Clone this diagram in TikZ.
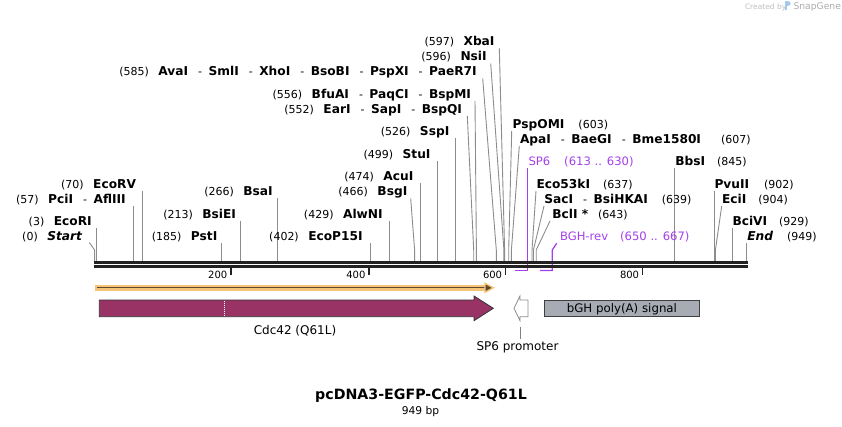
\documentclass[tikz,border=0pt]{standalone}
\usepackage{fontspec}
\setmainfont{DejaVu Sans}
\usetikzlibrary{calc}
\definecolor{cutgray}{RGB}{140,140,140}
\definecolor{prim}{RGB}{163,64,235}
\definecolor{cdc}{RGB}{153,51,102}
\definecolor{orband}{RGB}{246,196,118}
\definecolor{ordark}{RGB}{92,72,52}
\definecolor{bghfill}{RGB}{167,172,180}
\definecolor{bbcol}{RGB}{34,34,34}
\definecolor{wm}{RGB}{190,190,190}
\definecolor{wmblue}{RGB}{165,200,235}
\newcommand\nmf{\fontsize{12.2}{14}\selectfont\bfseries}
\newcommand\psf{\fontsize{11}{13}\selectfont\mdseries}
\newcommand\sepd{\hspace{10pt}{\psf -}\hspace{6.5pt}}
\newcommand\gapn{\hspace{9.5pt}}
\newcommand\cutl[4]{\coordinate (#1-t) at (#2,#3);\coordinate (#1-k) at (#4,250);\coordinate (#1-s) at (#4,261);\draw[cutline] (#1-t) -- (#1-k) -- (#1-s);}
\tikzset{
  lbl/.style={inner sep=0pt, outer sep=0pt},
  cutline/.style={draw=cutgray, line width=0.9pt},
  primer/.style={draw=prim, line width=1.3pt},
  ticklne/.style={draw=bbcol, line width=1.5pt},
}
\begin{document}
\begin{tikzpicture}[x=1pt,y=-1pt]
\useasboundingbox (0,0) rectangle (842,427);
% watermark
\node[lbl,anchor=base west,text=wm] (wm1) at (745,10) {\fontsize{7.5}{9}\selectfont Created by};
\fill[wmblue] (784.5,1.5) rectangle (787,10.5);
\fill[wmblue] (787,1.5) .. controls (792,1.5) and (792,6.5) .. (787,6.5) -- cycle;
\node[lbl,anchor=base west,text=wm!90!black] (wm2) at (793.5,10) {\fontsize{9.2}{11}\selectfont SnapGene};
% cut lines
\cutl{Start}{89.3}{242.5}{94.6}
\cutl{EcoRI}{96.7}{228.5}{96.7}
\cutl{PciI}{133.7}{206}{133.7}
\cutl{EcoRV}{142.7}{191}{142.7}
\cutl{PstI}{221.6}{243.5}{221.6}
\cutl{BsiEI}{240.9}{221}{240.9}
\cutl{BsaI}{277.3}{198.5}{277.3}
\cutl{EcoP}{370.7}{243.5}{370.7}
\cutl{AlwNI}{389.2}{221}{389.2}
\cutl{BsgI}{410.7}{198.5}{414.6}
\cutl{AcuI}{420.1}{183.5}{420.1}
\cutl{StuI}{437.3}{161}{437.3}
\cutl{SspI}{455.8}{138.5}{455.8}
\cutl{EarI}{467.3}{116}{473.7}
\cutl{BfuAI}{475}{101}{476.4}
\cutl{AvaI}{482.7}{78.5}{496.3}
\cutl{NsiI}{490.7}{63.5}{503.9}
\cutl{XbaI}{499.3}{48.5}{504.6}
\cutl{PspOMI}{511.7}{131}{508.7}
\cutl{ApaI}{519.3}{146}{511.4}
\cutl{Eco53}{536}{191}{532}
\cutl{SacI}{544}{206}{533.4}
\cutl{BclI}{550}{221}{536.2}
\cutl{BbsI}{674.9}{168.5}{674.9}
\cutl{PvuII}{714}{191}{714}
\cutl{EciI}{721.7}{206}{715.4}
\cutl{BciVI}{732.5}{228.5}{732.5}
\cutl{End}{746.3}{243.5}{746.3}
% primers
\coordinate (p1a) at (515,270.5);
\coordinate (p1b) at (527.3,270.5);
\coordinate (p1c) at (527.3,168);
\draw[primer] (p1a) -- (p1b) -- (p1c);
\coordinate (p2a) at (540,270.5);
\coordinate (p2b) at (552.3,270.5);
\coordinate (p2c) at (552.3,250);
\coordinate (p2d) at (556.7,243.3);
\draw[primer] (p2a) -- (p2b) -- (p2c) -- (p2d);
% backbone
\coordinate (bbL1) at (94.3,262.3);
\coordinate (bbR1) at (748.3,262.3);
\coordinate (bbL2) at (94.3,266.5);
\coordinate (bbR2) at (748.3,266.5);
\draw[bbcol, line width=2.6pt] (bbL1) -- (bbR1);
\draw[bbcol, line width=2.3pt] (bbL2) -- (bbR2);
% ticks
\foreach \tx/\tl in {230.9/200, 369/400, 505.7/600, 642.7/800}{
  \draw[ticklne] (\tx,266.5) -- (\tx,275);
  \node[lbl,anchor=base east] at (\tx-3.6,278.3) {\fontsize{10}{12}\selectfont \tl};
}
% left labels
\node[lbl,anchor=base east] (lStart) at (82,241) {\psf(0)\gapn\nmf\itshape Start};
\node[lbl,anchor=base east] (lEcoRI) at (91.7,226) {\psf(3)\gapn\nmf EcoRI};
\node[lbl,anchor=base east] (lPciI) at (125.7,203.5) {\psf(57)\gapn\nmf PciI\sepd AflIII};
\node[lbl,anchor=base east] (lEcoRV) at (136,188.5) {\psf(70)\gapn\nmf EcoRV};
\node[lbl,anchor=base east] (lPstI) at (217.3,241) {\psf(185)\gapn\nmf PstI};
\node[lbl,anchor=base east] (lBsiEI) at (236,218.5) {\psf(213)\gapn\nmf BsiEI};
\node[lbl,anchor=base east] (lBsaI) at (272.7,196) {\psf(266)\gapn\nmf BsaI};
\node[lbl,anchor=base east] (lEcoP) at (362.7,241) {\psf(402)\gapn\nmf EcoP15I};
\node[lbl,anchor=base east] (lAlwNI) at (382.7,218.5) {\psf(429)\gapn\nmf AlwNI};
\node[lbl,anchor=base east] (lBsgI) at (407.3,196) {\psf(466)\gapn\nmf BsgI};
\node[lbl,anchor=base east] (lAcuI) at (413.3,181) {\psf(474)\gapn\nmf AcuI};
\node[lbl,anchor=base east] (lStuI) at (430.5,158.5) {\psf(499)\gapn\nmf StuI};
\node[lbl,anchor=base east] (lSspI) at (449.3,136) {\psf(526)\gapn\nmf SspI};
\node[lbl,anchor=base east] (lEarI) at (462,113.5) {\psf(552)\gapn\nmf EarI\sepd SapI\sepd BspQI};
\node[lbl,anchor=base east] (lBfuAI) at (471,98.5) {\psf(556)\gapn\nmf BfuAI\sepd PaqCI\sepd BspMI};
\node[lbl,anchor=base east] (lAvaI) at (476.7,76) {\psf(585)\gapn\nmf AvaI\sepd SmlI\sepd XhoI\sepd BsoBI\sepd PspXI\sepd PaeR7I};
\node[lbl,anchor=base east] (lNsiI) at (486.7,61) {\psf(596)\gapn\nmf NsiI};
\node[lbl,anchor=base east] (lXbaI) at (494.5,46) {\psf(597)\gapn\nmf XbaI};
% right labels
\node[lbl,anchor=base west] (rPspOMI) at (512.7,128.5) {\nmf PspOMI\hspace{14pt}\psf(603)};
\node[lbl,anchor=base west] (rApaI) at (520,143.5) {\nmf ApaI\sepd BaeGI\sepd Bme1580I\hspace{20pt}\psf(607)};
\node[lbl,anchor=base west,text=prim] (rSP6) at (528.5,166) {\fontsize{11.6}{13}\selectfont SP6\hspace{14pt}(613 .. 630)};
\node[lbl,anchor=base west] (rEco53) at (536.5,188.5) {\nmf Eco53kI\hspace{13pt}\psf(637)};
\node[lbl,anchor=base west] (rSacI) at (544.3,203.5) {\nmf SacI\sepd BsiHKAI\hspace{14pt}\psf(639)};
\node[lbl,anchor=base west] (rBclI) at (552.3,218.5) {\nmf BclI *\hspace{10pt}\psf(643)};
\node[lbl,anchor=base west,text=prim] (rBGH) at (560,241) {\fontsize{11.6}{13}\selectfont BGH-rev\hspace{12pt}(650 .. 667)};
\node[lbl,anchor=base west] (rBbsI) at (675.3,166) {\nmf BbsI\hspace{12pt}\psf(845)};
\node[lbl,anchor=base west] (rPvuII) at (714.5,188.5) {\nmf PvuII\hspace{15pt}\psf(902)};
\node[lbl,anchor=base west] (rEciI) at (722,203.5) {\nmf EciI\hspace{12pt}\psf(904)};
\node[lbl,anchor=base west] (rBciVI) at (732.5,226) {\nmf BciVI\hspace{12pt}\psf(929)};
\node[lbl,anchor=base west] (rEnd) at (747.3,241) {\nmf\itshape End\hspace{14pt}\psf\upshape(949)};
% orange feature arrow
\coordinate (oa) at (95,287.8);
\coordinate (ob) at (487,287.8);
\draw[orband, line width=5.6pt] (oa) -- (ob);
\draw[ordark, line width=1.1pt] ($(oa)+(1.5,0)$) -- ($(ob)+(2,0)$);
\filldraw[fill=ordark, draw=orband, line width=1.4pt, line join=miter] (485,283.3) -- (493.3,287.8) -- (485,292.3) -- cycle;
% Cdc42 arrow
\draw[fill=cdc, draw=black!80, line width=0.8pt] (99.3,300) -- (474,300) -- (474,296) -- (493.3,308.3) -- (474,320.7) -- (474,316.7) -- (99.3,316.7) -- cycle;
\draw[white, line width=1.6pt, dash pattern=on 1pt off 1pt] (224.5,300.6) -- (224.5,316.1);
\node[lbl,anchor=base] (lCdc) at (295,334) {\fontsize{12}{14}\selectfont Cdc42 (Q61L)};
% SP6 promoter
\draw[fill=white, draw=black!45, line width=0.8pt] (528,300) -- (520,300) -- (520,296) -- (514,308.3) -- (520,320.7) -- (520,316.7) -- (528,316.7) -- cycle;
\coordinate (sp6a) at (520,327);
\coordinate (sp6b) at (520,338.5);
\draw[black!50, line width=0.8pt] (sp6a) -- (sp6b);
\node[lbl,anchor=base] (lSP6p) at (517.5,350) {\fontsize{12}{14}\selectfont SP6 promoter};
% bGH box
\node[draw=black!75, fill=bghfill, line width=0.8pt, minimum width=155.3pt, minimum height=16.5pt, inner sep=0pt] (bgh) at (621.9,308.4) {};
\node[lbl,anchor=base] (bghtxt) at (621.9,312.8) {\fontsize{11.8}{14}\selectfont bGH poly(A) signal};
% title
\node[lbl,anchor=base] (title) at (421,399) {\fontsize{14.2}{17}\selectfont\bfseries pcDNA3-EGFP-Cdc42-Q61L};
\node[lbl,anchor=base] (bp) at (420.5,414.5) {\fontsize{10.7}{13}\selectfont 949 bp};
\end{tikzpicture}
\end{document}
